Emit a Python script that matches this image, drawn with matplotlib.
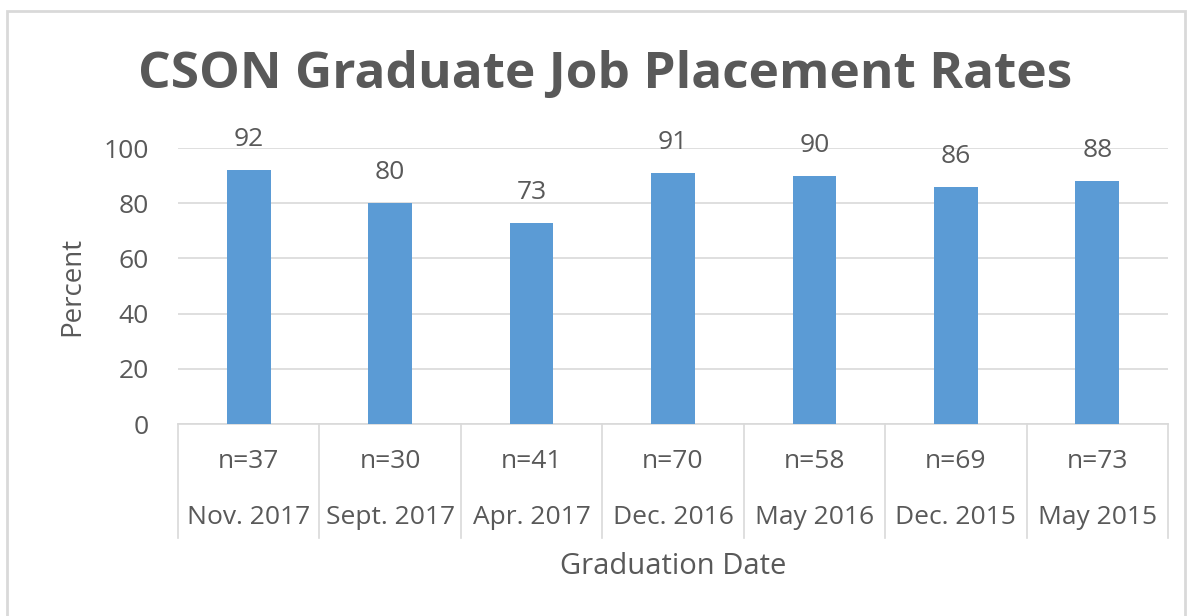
import matplotlib
matplotlib.use("Agg")
import matplotlib.pyplot as plt
import matplotlib.transforms as mtransforms
from matplotlib.patches import Rectangle
import numpy as np

# data
dates = ["Nov. 2017", "Sept. 2017", "Apr. 2017", "Dec. 2016", "May 2016", "Dec. 2015", "May 2015"]
counts = ["n=37", "n=30", "n=41", "n=70", "n=58", "n=69", "n=73"]
percent = [92, 80, 73, 91, 90, 86, 88]

plt.rcParams['font.family'] = ['Open Sans', 'DejaVu Sans']
grey = '#595959'
lightgrey = '#D9D9D9'
blue = '#5B9BD5'
fs = 19

W, H = 1193, 616
fig = plt.figure(figsize=(W / 100, H / 100), dpi=100)

# chart frame
fig.patches.append(Rectangle((7 / W, -0.05), (1185 - 7) / W, 1.05 - 11 / H,
                             transform=fig.transFigure, fill=False,
                             edgecolor=lightgrey, linewidth=2))

ax = fig.add_axes([178 / W, 1 - 424 / H, (1168 - 178) / W, (424 - 148) / H])

x = np.arange(len(dates))
bars = ax.bar(x, percent, width=0.31, color=blue, zorder=3)
for xi, v in zip(x, percent):
    ax.text(xi, v + 6.5, str(v), ha='center', va='bottom', fontsize=fs, color=grey)

ax.set_xlim(-0.5, len(dates) - 0.5)
ax.set_ylim(0, 100)
ax.set_yticks(range(0, 101, 20))
ax.yaxis.grid(True, color=lightgrey, linewidth=1.2, zorder=0)
ax.tick_params(axis='y', length=0, labelsize=fs, labelcolor=grey, pad=21)
ax.set_xticks([])
for s in ['top', 'right', 'left']:
    ax.spines[s].set_visible(False)
ax.spines['bottom'].set_color(lightgrey)
ax.spines['bottom'].set_linewidth(1.2)

# two-level category axis
trans = mtransforms.blended_transform_factory(ax.transData, ax.transAxes)
box_depth = (538 - 424) / (424 - 148)
for b in np.arange(-0.5, len(dates), 1.0):
    ax.plot([b, b], [0, -box_depth], transform=trans, color=lightgrey,
            linewidth=1.2, clip_on=False)
for xi, c, d in zip(x, counts, dates):
    ax.text(xi, -(462 - 424) / (424 - 148), c, transform=trans, ha='center',
            va='center', fontsize=fs, color=grey)
    ax.text(xi, -(518 - 424) / (424 - 148), d, transform=trans, ha='center',
            va='center', fontsize=fs, color=grey)

fig.text(673 / W, 1 - 566 / H, "Graduation Date", ha='center', va='center',
         fontsize=21, color=grey)
fig.text(72 / W, 1 - 286 / H, "Percent", ha='center', va='center',
         rotation=90, fontsize=20, color=grey)
fig.text(605 / W, 1 - 75 / H, "CSON Graduate Job Placement Rates", ha='center',
         va='center', fontsize=37, fontweight='bold', color=grey)

fig.savefig("out.png", dpi=100)
